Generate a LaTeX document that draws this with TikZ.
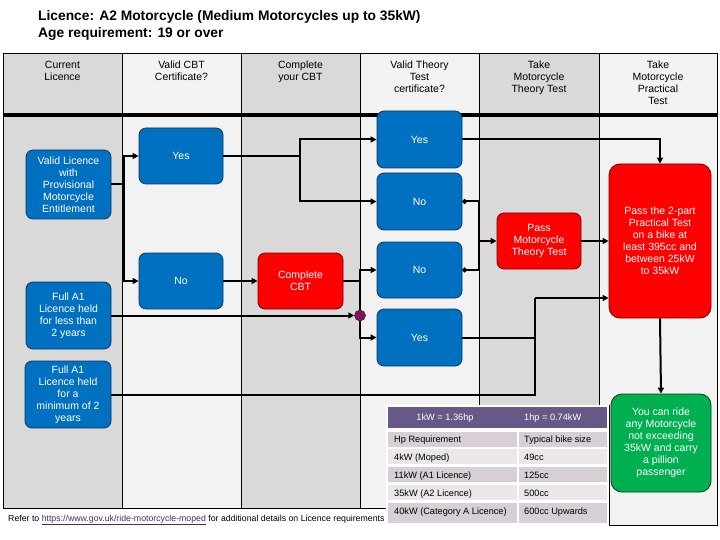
\documentclass[tikz,border=0pt]{standalone}
\usepackage{fontspec}
\setmainfont{Liberation Sans}
\usetikzlibrary{arrows.meta,calc}
\definecolor{lanegrey}{RGB}{217,217,217}
\definecolor{lanelight}{RGB}{242,242,242}
\definecolor{boxblue}{RGB}{0,112,192}
\definecolor{boxblueline}{RGB}{22,54,92}
\definecolor{boxred}{RGB}{255,0,0}
\definecolor{boxredline}{RGB}{120,0,0}
\definecolor{boxgreen}{RGB}{0,176,80}
\definecolor{boxgreenline}{RGB}{0,60,30}
\definecolor{dotpurple}{RGB}{128,20,90}
\definecolor{tabhead}{RGB}{104,88,136}
\definecolor{tabdark}{RGB}{216,206,214}
\definecolor{tablight}{RGB}{234,230,233}
\definecolor{linkcol}{RGB}{80,40,110}
\begin{document}
\begin{tikzpicture}[x=1pt,y=-1pt,
  procbox/.style={rounded corners=7pt, draw, line width=0.8pt, text=white, align=center, inner sep=0pt, font=\fontsize{10.5}{12}\selectfont},
  bluebox/.style={procbox, fill=boxblue, draw=boxblueline},
  redbox/.style={procbox, fill=boxred, draw=boxredline},
  greenbox/.style={procbox, fill=boxgreen, draw=boxgreenline},
  sz/.style 2 args={minimum width=#1pt, minimum height=#2pt},
  conn/.style={line width=2pt},
  arr/.style={conn, -{Triangle[length=6pt,width=6pt]}},
  tailarr/.style={conn, {Circle[length=4.5pt]}-},
  hdr/.style={anchor=north, align=center, inner sep=0pt, font=\fontsize{10.5}{12}\selectfont},
  cell/.style={anchor=base west, inner sep=0pt, font=\fontsize{9.2}{10}\selectfont},
  lane/.style={line width=1pt},
]
\useasboundingbox (0,0) rectangle (720,540);
\fill[white] (0,0) rectangle (720,540);

% title
\node[anchor=base west, inner sep=0pt, font=\bfseries\fontsize{13.8}{15}\selectfont] (t1) at (38,21) {Licence: A2 Motorcycle (Medium Motorcycles up to 35kW)};
\node[anchor=base west, inner sep=0pt, font=\bfseries\fontsize{13.8}{15}\selectfont] (t2) at (38,38) {Age requirement: 19 or over};

% lanes
\fill[lanegrey]  (3,54)   rectangle (122,508);
\fill[lanelight] (122,54) rectangle (241,508);
\fill[lanegrey]  (241,54) rectangle (360,508);
\fill[lanelight] (360,54) rectangle (479,508);
\fill[lanegrey]  (479,54) rectangle (599,508);
\fill[lanelight] (599,54) rectangle (717,525);
\draw[lane] (3,508) -- (3,54) -- (717,54) -- (717,525) -- (609,525) -- (609,405);
\draw[lane] (3,508) -- (388,508);
\foreach \xx in {122,241,360,479,599} \draw[lane] (\xx,54) -- (\xx,508);
\draw[line width=3.5pt] (3,115) -- (717,115);

% headers
\node[hdr] (h1) at (62.5,61) {Current\\Licence};
\node[hdr] (h2) at (181.5,61) {Valid CBT\\Certificate?};
\node[hdr] (h3) at (300.5,61) {Complete\\your CBT};
\node[hdr] (h4) at (419.5,61) {Valid Theory\\Test\\certificate?};
\node[hdr] (h5) at (539,61) {Take\\Motorcycle\\Theory Test};
\node[hdr] (h6) at (658,61) {Take\\Motorcycle\\Practical\\Test};

% table
\fill[white] (386,405) rectangle (609,525);
\draw[lane] (609,405) -- (609,525);
\fill[tabhead] (388,407) rectangle (607,428);
\fill[tabdark]  (388,432) rectangle (517,447); \fill[tabdark]  (519,432) rectangle (607,447);
\fill[tablight] (388,449) rectangle (517,464); \fill[tablight] (519,449) rectangle (607,464);
\fill[tabdark]  (388,467) rectangle (517,482); \fill[tabdark]  (519,467) rectangle (607,482);
\fill[tablight] (388,485) rectangle (517,500); \fill[tablight] (519,485) rectangle (607,500);
\fill[tabdark]  (388,503) rectangle (517,523); \fill[tabdark]  (519,503) rectangle (607,523);
\node[cell, anchor=base, text=white] (th1) at (445,420.5) {1kW = 1.36hp};
\node[cell, text=white] (th2) at (524,420.5) {1hp = 0.74kW};
\node[cell] (c11) at (394,442.5) {Hp Requirement};
\node[cell] (c12) at (524,442.5) {Typical bike size};
\node[cell] (c21) at (394,460) {4kW (Moped)};
\node[cell] (c22) at (524,460) {49cc};
\node[cell] (c31) at (394,478) {11kW (A1 Licence)};
\node[cell] (c32) at (524,478) {125cc};
\node[cell] (c41) at (394,496) {35kW (A2 Licence)};
\node[cell] (c42) at (524,496) {500cc};
\node[cell] (c51) at (394,514.5) {40kW (Category A Licence)};
\node[cell] (c52) at (524,514.5) {600cc Upwards};

% footnote
\node[anchor=base west, inner sep=0pt, font=\fontsize{8.75}{10}\selectfont] (ref) at (8,521)
  {Refer to \textcolor{linkcol}{\underline{https://www.gov.uk/ride-motorcycle-moped}} for additional details on Licence requirements};

% boxes
\node[bluebox, sz={85}{69}] (vl) at (68.5,184.5) {Valid Licence\\with\\Provisional\\Motorcycle\\Entitlement};
\node[bluebox, sz={85}{67}] (a1less) at (68.5,315.5) {Full A1\\Licence held\\for less than\\2 years};
\node[bluebox, sz={86}{67}] (a1min) at (68,394.5) {Full A1\\Licence held\\for a\\minimum of 2\\years};
\node[bluebox, sz={84}{56}] (yes1) at (181,156) {Yes};
\node[bluebox, sz={84}{56}] (no1) at (181,281) {No};
\node[redbox, sz={85}{56}] (cbt) at (300.5,281) {Complete\\CBT};
\node[bluebox, sz={85}{57}] (yes2) at (419.5,139.5) {Yes};
\node[bluebox, sz={85}{57}] (no2) at (419.5,201.5) {No};
\node[bluebox, sz={85}{56}] (no3) at (419.5,270) {No};
\node[bluebox, sz={85}{57}] (yes3) at (419.5,337.5) {Yes};
\node[redbox, sz={84}{56}] (theory) at (539,241) {Pass\\Motorcycle\\Theory Test};
\node[redbox, sz={102}{154}, rounded corners=11pt] (practical) at (660,241) {Pass the 2-part\\Practical Test\\on a bike at\\least 395cc and\\between 25kW\\to 35kW};
\node[greenbox, sz={100}{98}, rounded corners=11pt] (green) at (661,443) {You can ride\\any Motorcycle\\not exceeding\\35kW and carry\\a pillion\\passenger};

\coordinate (jn) at (535,298);
\coordinate (jt) at (479,241);

% connectors
\draw[arr] (vl.east) -- ++(13,0) |- (yes1.west);
\draw[arr] (vl.east) -- ++(13,0) |- (no1.west);
\draw[arr] (yes1.east) -- ++(77,0) |- (yes2.west);
\draw[arr] (yes1.east) -- ++(77,0) |- (no2.west);
\draw[arr] (no1.east) -- (cbt.west);
\draw[arr] (cbt.east) -- ++(17,0) |- (no3.west);
\draw[arr] (cbt.east) -- ++(17,0) |- (yes3.west);
\draw[conn] (a1min.east) -| (jn);
\draw[conn] (yes3.east) -- (yes3.east -| jn);
\draw[arr] (jn) -- (jn -| practical.west);
\draw[tailarr] (no2.east) -| (jt);
\draw[tailarr] (no3.east) -| (jt);
\draw[arr] (jt) -- (theory.west);
\draw[arr] (theory.east) -- (practical.west);
\draw[arr] (yes2.east) -| (practical.north);
\draw[arr] (practical.south) -- (green.north);
\node[circle, minimum size=11pt, inner sep=0pt, fill=dotpurple, draw=dotpurple!60!black, line width=0.5pt] (dot) at (360,315.5) {};
\draw[arr] (a1less.east) -- (dot.west);
\end{tikzpicture}
\end{document}
